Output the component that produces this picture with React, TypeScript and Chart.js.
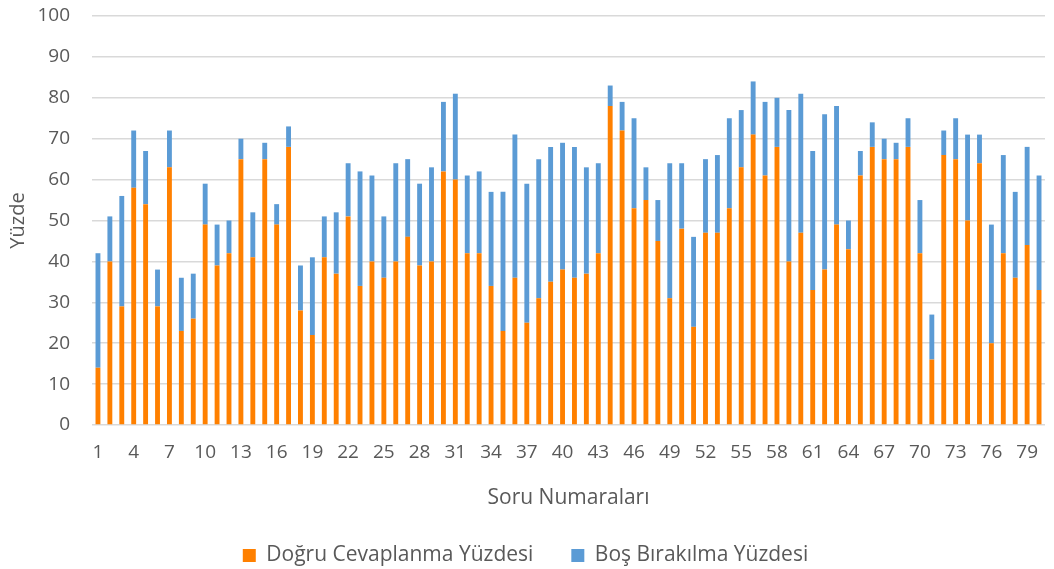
import React, { useEffect, useRef } from "react";
import { Chart, registerables } from "chart.js";

Chart.register(...registerables);

const questions: string[] = Array.from({ length: 80 }, (_, i) => String(i + 1));

const correctPct: number[] = [
  14, 40, 29, 58, 54, 29, 63, 23, 26, 49,
  39, 42, 65, 41, 65, 49, 68, 28, 22, 41,
  37, 51, 34, 40, 36, 40, 46, 39, 40, 62,
  60, 42, 42, 34, 23, 36, 25, 31, 35, 38,
  36, 37, 42, 78, 72, 53, 55, 45, 31, 48,
  24, 47, 47, 53, 63, 71, 61, 68, 40, 47,
  33, 38, 49, 43, 61, 68, 65, 65, 68, 42,
  16, 66, 65, 50, 64, 20, 42, 36, 44, 33,
];

const totalPct: number[] = [
  42, 51, 56, 72, 67, 38, 72, 36, 37, 59,
  49, 50, 70, 52, 69, 54, 73, 39, 41, 51,
  52, 64, 62, 61, 51, 64, 65, 59, 63, 79,
  81, 61, 62, 57, 57, 71, 59, 65, 68, 69,
  68, 63, 64, 83, 79, 75, 63, 55, 64, 64,
  46, 65, 66, 75, 77, 84, 79, 80, 77, 81,
  67, 76, 78, 50, 67, 74, 70, 69, 75, 55,
  27, 72, 75, 71, 71, 49, 66, 57, 68, 61,
];

const blankPct: number[] = totalPct.map((t, i) => t - correctPct[i]);

const yTicks: number[] = [0, 10, 20, 30, 40, 50, 60, 70, 80, 90, 100];

const FONT = "'Open Sans', Lato, sans-serif";
const GRAY = "#595959";

export default function App() {
  const ref = useRef<HTMLCanvasElement | null>(null);

  useEffect(() => {
    document.body.style.margin = "0";
    if (!ref.current) return;
    const chart = new Chart(ref.current, {
      type: "bar",
      data: {
        labels: questions,
        datasets: [
          {
            label: "Doğru Cevaplanma Yüzdesi",
            data: correctPct,
            backgroundColor: "#ff8000",
            barPercentage: 0.41,
            categoryPercentage: 1,
          },
          {
            label: "Boş Bırakılma Yüzdesi",
            data: blankPct,
            backgroundColor: "#5b9bd5",
            barPercentage: 0.41,
            categoryPercentage: 1,
          },
        ],
      },
      options: {
        responsive: false,
        animation: false,
        layout: { padding: { left: 6, right: 9, top: 0, bottom: -7 } },
        plugins: {
          legend: {
            position: "bottom",
            labels: {
              color: GRAY,
              font: { family: FONT, size: 21 },
              boxWidth: 13,
              boxHeight: 13,
              padding: 38,
            },
          },
          tooltip: { enabled: false },
        },
        scales: {
          x: {
            stacked: true,
            grid: { display: false },
            border: { display: false },
            ticks: {
              autoSkip: false,
              maxRotation: 0,
              color: GRAY,
              font: { family: FONT, size: 19 },
              padding: 8,
              callback: (_v: any, i: number) => (i % 3 === 0 ? questions[i] : ""),
            },
            title: {
              display: true,
              text: "Soru Numaraları",
              color: GRAY,
              font: { family: FONT, size: 21 },
              padding: { top: 14, bottom: -4 },
            },
          },
          y: {
            stacked: true,
            min: 0,
            max: 100,
            afterBuildTicks: (axis: any) => {
              axis.ticks = yTicks.map((v) => ({ value: v }));
            },
            afterFit: (axis: any) => {
              axis.paddingTop = 16;
              axis.paddingBottom = 12;
              axis.width = 86;
            },
            grid: { color: "#d9d9d9", lineWidth: 1.5, drawTicks: false },
            border: { display: false },
            ticks: {
              color: GRAY,
              font: { family: FONT, size: 19 },
              padding: 22,
            },
            title: {
              display: true,
              text: "Yüzde",
              color: GRAY,
              font: { family: FONT, size: 20 },
              padding: { top: 0, bottom: 10 },
            },
          },
        },
      },
    });
    return () => chart.destroy();
  }, []);

  return (
    <div style={{ width: 1054, height: 569 }}>
      <canvas ref={ref} width={1054} height={569} />
    </div>
  );
}
